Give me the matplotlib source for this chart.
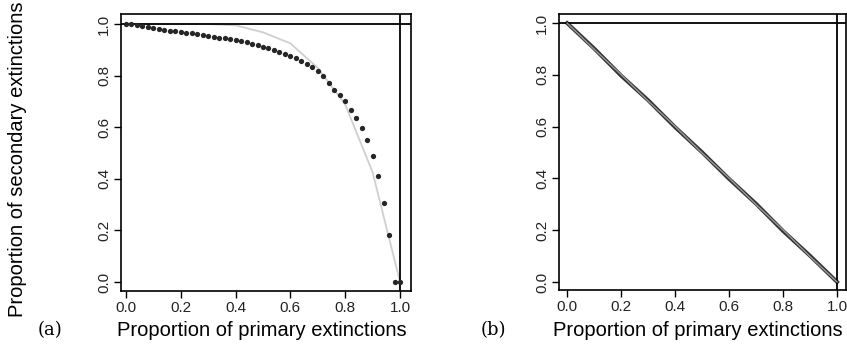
import numpy as np
from matplotlib import pyplot as plt
from matplotlib import font_manager

# panel (a): simulated points (step 0.02) and grey reference curve (step 0.1)
sim_x = [0.00, 0.02, 0.04, 0.06, 0.08, 0.10, 0.12, 0.14, 0.16, 0.18,
         0.20, 0.22, 0.24, 0.26, 0.28, 0.30, 0.32, 0.34, 0.36, 0.38,
         0.40, 0.42, 0.44, 0.46, 0.48, 0.50, 0.52, 0.54, 0.56, 0.58,
         0.60, 0.62, 0.64, 0.66, 0.68, 0.70, 0.72, 0.74, 0.76, 0.78,
         0.80, 0.82, 0.84, 0.86, 0.88, 0.90, 0.92, 0.94, 0.96, 0.98, 1.00]
sim_y = [1.000, 0.999, 0.995, 0.992, 0.990, 0.986, 0.982, 0.978, 0.975, 0.973,
         0.970, 0.966, 0.964, 0.960, 0.957, 0.955, 0.950, 0.946, 0.946, 0.944,
         0.939, 0.934, 0.929, 0.924, 0.918, 0.912, 0.907, 0.900, 0.893, 0.884,
         0.876, 0.867, 0.858, 0.847, 0.834, 0.819, 0.797, 0.772, 0.746, 0.724,
         0.700, 0.666, 0.634, 0.596, 0.552, 0.489, 0.411, 0.305, 0.184, 0.000, 0.000]
ref_x = [0.0, 0.1, 0.2, 0.3, 0.4, 0.5, 0.6, 0.7, 0.8, 0.9, 1.0]
ref_y = [1.000, 1.000, 1.000, 1.000, 0.995, 0.968, 0.925, 0.830, 0.688, 0.425, 0.000]

# panel (b): both series lie almost on the diagonal
lin_x = [0.0, 0.1, 0.2, 0.3, 0.4, 0.5, 0.6, 0.7, 0.8, 0.9, 1.0]
lin_black = [1.000, 0.902, 0.797, 0.702, 0.598, 0.501, 0.398, 0.302, 0.197, 0.101, 0.000]
lin_grey = [1.000, 0.899, 0.801, 0.699, 0.601, 0.498, 0.401, 0.299, 0.201, 0.098, 0.000]

ticks = [0.0, 0.2, 0.4, 0.6, 0.8, 1.0]
tick_labels = ["0.0", "0.2", "0.4", "0.6", "0.8", "1.0"]

names = {f.name for f in font_manager.fontManager.ttflist}
tick_font = "Liberation Sans Narrow" if "Liberation Sans Narrow" in names else "Liberation Sans"


def style_axes(ax, xlim, ylim):
    ax.set_xlim(*xlim)
    ax.set_ylim(*ylim)
    ax.set_xticks(ticks)
    ax.set_yticks(ticks)
    ax.set_xticklabels(tick_labels, fontfamily=tick_font, fontsize=11, color="#222222")
    ax.set_yticklabels(tick_labels, fontfamily=tick_font, fontsize=11, color="#222222",
                       rotation=90, va="center")
    ax.tick_params(direction="out", length=5, width=1, pad=2)
    for s in ax.spines.values():
        s.set_linewidth(1.2)
    ax.axhline(1.0, color="black", lw=1.3)
    ax.axvline(1.0, color="black", lw=1.3)


fig = plt.figure(figsize=(8.47, 3.52), dpi=100)

ax_a = fig.add_axes([121 / 847, 1 - 291 / 352, 290 / 847, 277 / 352])
ax_a.plot(ref_x, ref_y, color="#cfcfcf", lw=1.3, zorder=2)
ax_a.plot(sim_x, sim_y, "o", color="#262626", ms=3.8, mec="none", zorder=3)
style_axes(ax_a, (-0.018, 1.04), (-0.035, 1.039))

ax_b = fig.add_axes([559 / 847, 1 - 290 / 352, 287 / 847, 276 / 352])
ax_b.plot(lin_x, lin_black, color="#333333", lw=2.8, zorder=2)
ax_b.plot(lin_x, lin_grey, color="#9a9a9a", lw=1.0, zorder=3)
style_axes(ax_b, (-0.03, 1.033), (-0.031, 1.035))

fig.text(18 / 847, 1 - 159 / 352, "Proportion of secondary extinctions",
         rotation=90, ha="center", va="center", fontsize=14.5, family="Liberation Sans")
fig.text(262 / 847, 1 - 330 / 352, "Proportion of primary extinctions",
         ha="center", va="center", fontsize=14.5, family="Liberation Sans")
fig.text(698 / 847, 1 - 330 / 352, "Proportion of primary extinctions",
         ha="center", va="center", fontsize=14.5, family="Liberation Sans")
fig.text(50 / 847, 1 - 330 / 352, "(a)", ha="center", va="center",
         fontsize=13, family="DejaVu Serif")
fig.text(493 / 847, 1 - 330 / 352, "(b)", ha="center", va="center",
         fontsize=13, family="DejaVu Serif")

fig.savefig("out.png", dpi=100)
plt.close(fig)
